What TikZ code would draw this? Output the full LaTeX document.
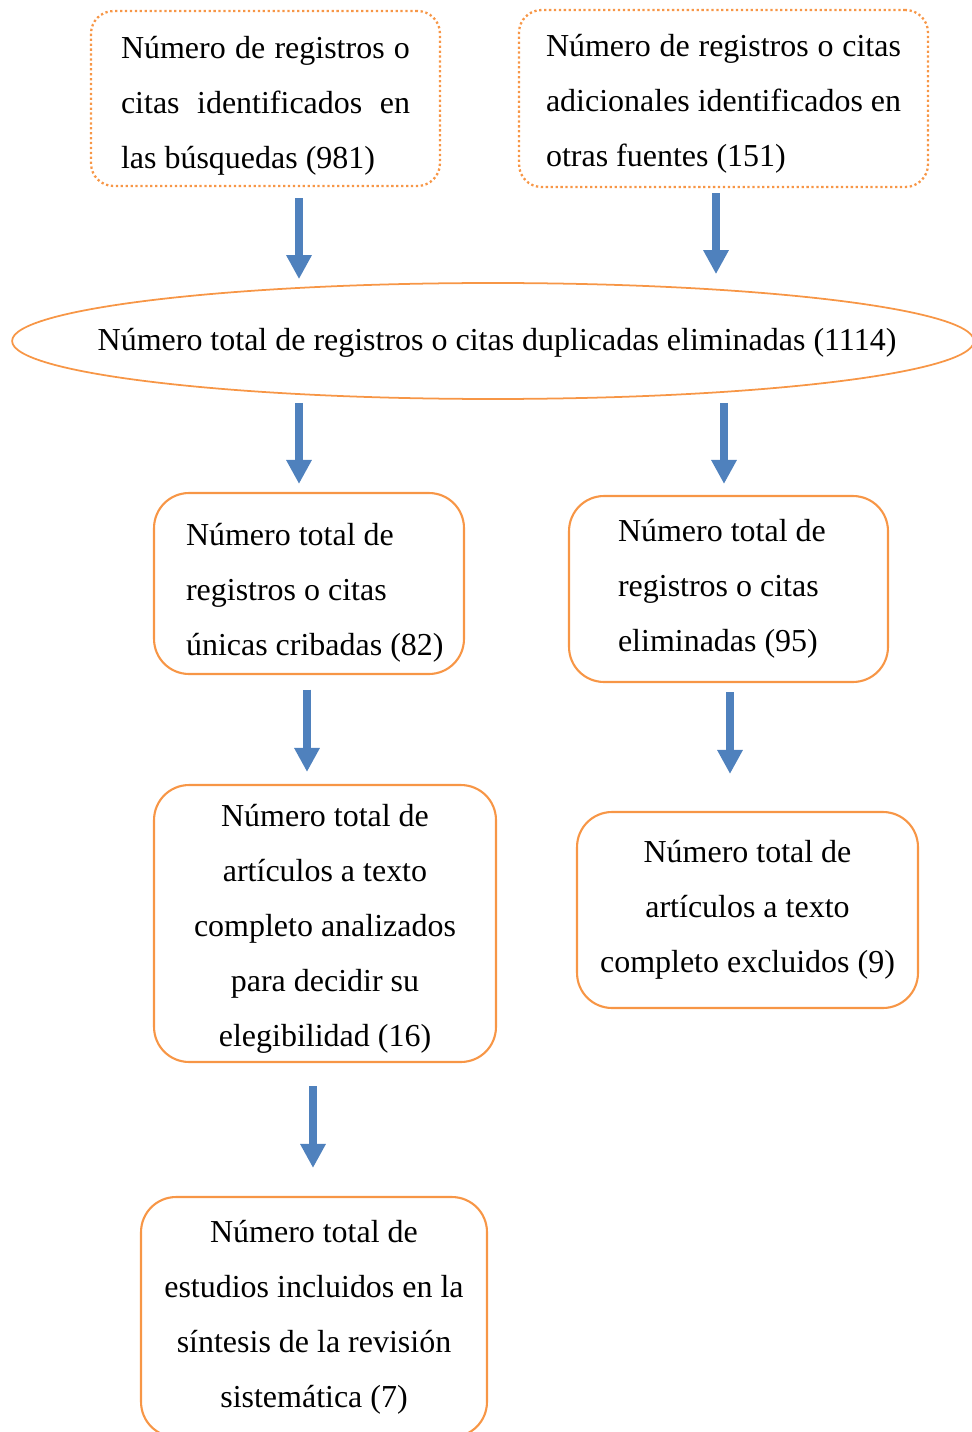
\documentclass[tikz,border=0pt]{standalone}
\usepackage{fontspec}
\setmainfont{Liberation Serif}
\usetikzlibrary{arrows.meta,shapes.geometric}
\definecolor{naranja}{HTML}{F79646}
\definecolor{azul}{HTML}{4F81BD}

\begin{document}
\begin{tikzpicture}[x=0.02cm,y=-0.02cm,
    font=\fontsize{18.2}{31.3}\selectfont,
    punteada/.style={draw=naranja,line width=1.3pt,dash pattern=on 1.3pt off 1.5pt,rounded corners=0.45cm,inner sep=0pt},
    caja/.style={draw=naranja,line width=1.2pt,rounded corners=0.7cm,inner sep=0pt},
    ovalo/.style={draw=naranja,line width=1pt,ellipse,inner sep=0pt},
    flecha/.style={draw=azul,line width=0.15cm,-{Triangle[width=0.48cm,length=0.48cm]}}]
    \useasboundingbox (0,0) rectangle (971,1432);

    % cajas de arriba
    \node[punteada,minimum width=6.98cm,minimum height=3.5cm,text width=5.78cm,align=justify] (busq) at (265.5,98.5)
        {\rule{0pt}{0.73cm}Número\hfill de\hfill registros\hfill o\\
         citas\hfill identificados\hfill en\\
         las búsquedas (981)};
    \node[punteada,minimum width=8.18cm,minimum height=3.54cm,text width=7.1cm,align=justify] (otras) at (723.5,98.5)
        {\rule{0pt}{0.65cm}Número\hfill de\hfill registros\hfill o\hfill citas\\
         adicionales\hfill identificados\hfill en\\
         otras fuentes (151)};

    \node[ovalo,minimum width=19.24cm,minimum height=2.32cm] (elip) at (493,341) {};
    \node (elipTxt) at (497,343) {Número total de registros o citas duplicadas eliminadas (1114)};

    \node[caja,minimum width=6.2cm,minimum height=3.62cm,text width=4.92cm,align=flush left] (unicas) at (309,583.5)
        {\rule{0pt}{0.83cm}Número total de\\ registros o citas\\ \mbox{únicas cribadas (82)}};
    \node[caja,minimum width=6.38cm,minimum height=3.72cm,text width=4.42cm,align=flush left] (elim) at (728.5,589)
        {Número total de\\ registros o citas\\ eliminadas (95)};

    \node[caja,minimum width=6.84cm,minimum height=5.54cm,text width=6.4cm,align=flush center] (analiz) at (325,923.5)
        {\rule{0pt}{0.67cm}Número total de\\ artículos a texto\\ completo analizados\\ para decidir su\\ elegibilidad (16)};
    \node[caja,minimum width=6.82cm,minimum height=3.92cm,text width=6.4cm,align=flush center] (excl) at (747.5,910)
        {Número total de\\ artículos a texto\\ completo excluidos (9)};

    \node[caja,minimum width=6.92cm,minimum height=4.8cm,text width=6.5cm,align=flush center] (incl) at (314,1317)
        {Número total de\\ estudios incluidos en la\\ síntesis de la revisión\\ sistemática (7)};

    % flechas
    \coordinate (x1) at (299,0);
    \coordinate (x2) at (716,0);
    \coordinate (x4) at (724,0);
    \coordinate (x5) at (307,0);
    \coordinate (x6) at (730,0);
    \coordinate (x7) at (313,0);

    \draw[flecha,shorten <=0.22cm,shorten >=0.06cm] (busq.south -| x1) -- (elip.north -| x1);
    \draw[flecha,shorten <=0.10cm,shorten >=0.16cm] (otras.south -| x2) -- (elip.north -| x2);
    \draw[flecha,shorten <=0.06cm,shorten >=0.16cm] (elip.south -| x1) -- (unicas.north -| x1);
    \draw[flecha,shorten <=0.06cm,shorten >=0.22cm] (elip.south -| x4) -- (elim.north -| x4);
    \draw[flecha,shorten <=0.29cm,shorten >=0.24cm] (unicas.south -| x5) -- (analiz.north -| x5);
    \draw[flecha,shorten <=0.18cm,shorten >=0.74cm] (elim.south -| x6) -- (excl.north -| x6);
    \draw[flecha,shorten <=0.46cm,shorten >=0.56cm] (analiz.south -| x7) -- (incl.north -| x7);

\end{tikzpicture}
\end{document}
